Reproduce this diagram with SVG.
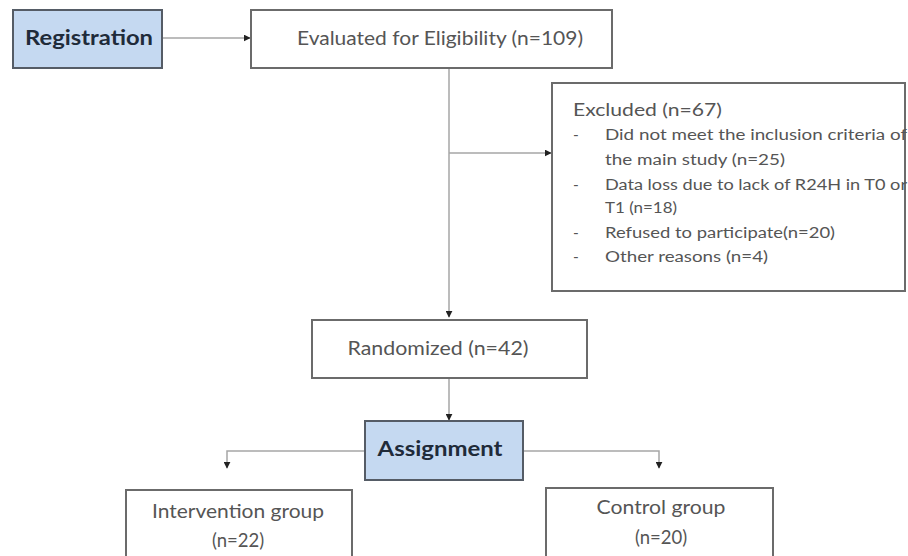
<svg xmlns="http://www.w3.org/2000/svg" width="908" height="556" viewBox="0 0 908 556">
<defs>
<style>
.box{fill:#ffffff;stroke:#6b6b6b;stroke-width:2}
.blue{fill:#c5d9f1;stroke:#555c66;stroke-width:2}
.t{font-family:Lato,"Liberation Sans",sans-serif;fill:#555555}
.b{font-family:Lato,"Liberation Sans",sans-serif;fill:#1f2b3a;font-weight:bold}
.c{fill:none;stroke:#a6a6a6;stroke-width:1.5}
</style>
<marker id="ah" viewBox="0 0 10 10" refX="9" refY="5" markerWidth="7" markerHeight="7" orient="auto" markerUnits="userSpaceOnUse">
<path d="M0,0 L10,5 L0,10 z" fill="#222"/>
</marker>
</defs>
<g id="connectors">
<path class="c" d="M162,38 H250" marker-end="url(#ah)"/>
<path class="c" d="M449,68 V317" marker-end="url(#ah)"/>
<path class="c" d="M449,153 H551" marker-end="url(#ah)"/>
<path class="c" d="M449,378 V420" marker-end="url(#ah)"/>
<path class="c" d="M365,451 H227 V468" marker-end="url(#ah)"/>
<path class="c" d="M523,451 H659 V468" marker-end="url(#ah)"/>
</g>
<g id="registration">
<rect class="blue" x="13" y="10" width="149" height="58"/>
<text class="b" x="89" y="45" font-size="20" text-anchor="middle" textLength="128" lengthAdjust="spacingAndGlyphs">Registration</text>
</g>
<g id="evaluated">
<rect class="box" x="251" y="10" width="361" height="58"/>
<text class="t" x="440" y="45" font-size="18.5" text-anchor="middle" textLength="286" lengthAdjust="spacingAndGlyphs">Evaluated for Eligibility (n=109)</text>
</g>
<g id="excluded">
<rect class="box" x="552" y="83" width="353" height="208"/>
<text class="t" x="573" y="116" font-size="17" textLength="149" lengthAdjust="spacingAndGlyphs">Excluded (n=67)</text>
<g font-size="15.5">
<text class="t" x="573" y="140">-</text>
<text class="t" x="605" y="140" textLength="302" lengthAdjust="spacingAndGlyphs">Did not meet the inclusion criteria of</text>
<text class="t" x="605" y="165" textLength="180" lengthAdjust="spacingAndGlyphs">the main study (n=25)</text>
<text class="t" x="573" y="190">-</text>
<text class="t" x="605" y="190" textLength="302" lengthAdjust="spacingAndGlyphs">Data loss due to lack of R24H in T0 or</text>
<text class="t" x="605" y="213" textLength="72" lengthAdjust="spacingAndGlyphs">T1 (n=18)</text>
<text class="t" x="573" y="238">-</text>
<text class="t" x="605" y="238" textLength="230" lengthAdjust="spacingAndGlyphs">Refused to participate(n=20)</text>
<text class="t" x="573" y="262">-</text>
<text class="t" x="605" y="262" textLength="163" lengthAdjust="spacingAndGlyphs">Other reasons (n=4)</text>
</g>
</g>
<g id="randomized">
<rect class="box" x="312" y="320" width="275" height="58"/>
<text class="t" x="438" y="355" font-size="18.5" text-anchor="middle" textLength="181" lengthAdjust="spacingAndGlyphs">Randomized (n=42)</text>
</g>
<g id="assignment">
<rect class="blue" x="365" y="421" width="158" height="59"/>
<text class="b" x="440" y="456" font-size="20" text-anchor="middle" textLength="125" lengthAdjust="spacingAndGlyphs">Assignment</text>
</g>
<g id="intervention">
<rect class="box" x="126" y="490" width="226" height="70"/>
<text class="t" x="238" y="518" font-size="18.5" text-anchor="middle" textLength="172" lengthAdjust="spacingAndGlyphs">Intervention group</text>
<text class="t" x="238" y="547" font-size="18.5" text-anchor="middle">(n=22)</text>
</g>
<g id="control">
<rect class="box" x="546" y="488" width="227" height="72"/>
<text class="t" x="661" y="514" font-size="18.5" text-anchor="middle" textLength="129" lengthAdjust="spacingAndGlyphs">Control group</text>
<text class="t" x="661" y="544" font-size="18.5" text-anchor="middle">(n=20)</text>
</g>
</svg>
